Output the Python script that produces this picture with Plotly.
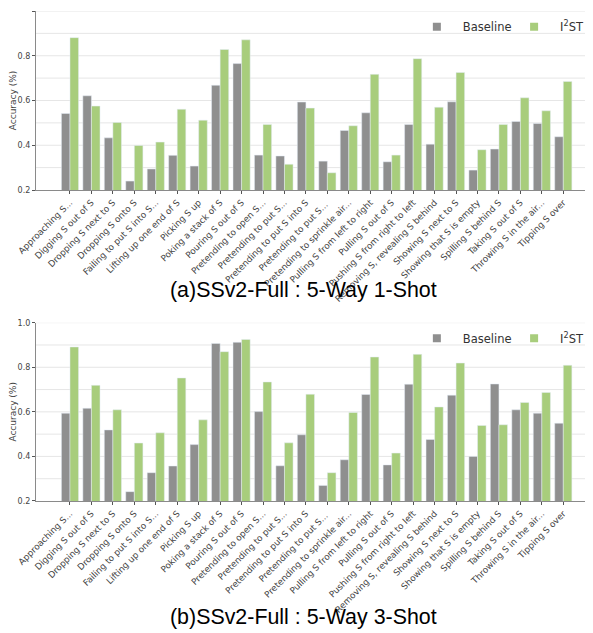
import plotly.graph_objects as go

categories = [
    "Approaching S...", "Digging S out of S", "Dropping S next to S", "Dropping S onto S",
    "Failing to put S into S...", "Lifting up one end of S", "Picking S up", "Poking a stack of S",
    "Pouring S out of S", "Pretending to open S...", "Pretending to put S...", "Pretending to put S into S",
    "Pretending to put S... ", "Pretending to sprinkle air...", "Pulling S from left to right",
    "Pulling S out of S", "Pushing S from right to left", "Removing S, revealing S behind",
    "Showing S next to S", "Showing that S is empty", "Spilling S behind S", "Taking S out of S",
    "Throwing S in the air...", "Tipping S over",
]

baseline_1shot = [0.542, 0.621, 0.433, 0.240, 0.294, 0.355, 0.307, 0.668, 0.765, 0.356, 0.352, 0.593,
                  0.329, 0.466, 0.545, 0.326, 0.493, 0.405, 0.594, 0.289, 0.383, 0.506, 0.497, 0.438]
i2st_1shot = [0.881, 0.575, 0.502, 0.399, 0.414, 0.561, 0.512, 0.828, 0.871, 0.493, 0.315, 0.566,
              0.277, 0.487, 0.717, 0.356, 0.787, 0.570, 0.725, 0.380, 0.493, 0.612, 0.554, 0.685]

baseline_3shot = [0.594, 0.616, 0.519, 0.242, 0.327, 0.357, 0.453, 0.907, 0.912, 0.601, 0.358, 0.497,
                  0.270, 0.385, 0.678, 0.362, 0.724, 0.476, 0.675, 0.400, 0.725, 0.609, 0.594, 0.549]
i2st_3shot = [0.891, 0.719, 0.609, 0.460, 0.506, 0.752, 0.564, 0.870, 0.925, 0.734, 0.461, 0.679,
              0.327, 0.597, 0.846, 0.415, 0.858, 0.622, 0.819, 0.539, 0.542, 0.642, 0.687, 0.809]

titles = ["(a)SSv2-Full : 5-Way 1-Shot", "(b)SSv2-Full : 5-Way 3-Shot"]
y_ticks = [0.2, 0.4, 0.6, 0.8, 1.0]
series_names = ["Baseline", "I<sup>2</sup>ST"]

GRAY = "#8f8f8f"
GREEN = "#a8cd7c"
x_idx = list(range(len(categories)))

fig = go.Figure()
panels = [(baseline_1shot, i2st_1shot, "x", "y"), (baseline_3shot, i2st_3shot, "x2", "y2")]
for base, ours, xa, ya in panels:
    fig.add_trace(go.Bar(x=x_idx, y=base, marker_color=GRAY, xaxis=xa, yaxis=ya,
                         showlegend=False, name=series_names[0]))
    fig.add_trace(go.Bar(x=x_idx, y=ours, marker_color=GREEN, xaxis=xa, yaxis=ya,
                         showlegend=False, name=series_names[1]))

# legend proxies (small square markers); each entry in its own legend for exact placement
legend_map = [("legend", "legend2", "x", "y"), ("legend3", "legend4", "x2", "y2")]
for leg_b, leg_i, xa, ya in legend_map:
    fig.add_trace(go.Scatter(x=[None], y=[None], mode="markers", name=series_names[0],
                             marker=dict(symbol="square", size=8, color=GRAY),
                             xaxis=xa, yaxis=ya, legend=leg_b))
    fig.add_trace(go.Scatter(x=[None], y=[None], mode="markers", name=series_names[1],
                             marker=dict(symbol="square", size=8, color=GREEN),
                             xaxis=xa, yaxis=ya, legend=leg_i))

xcommon = dict(
    tickmode="array", tickvals=x_idx, ticktext=categories, tickangle=-45,
    range=[-1.585, 24.385], showgrid=False, showline=True, linecolor="#8a8a8a",
    linewidth=1.2, ticks="outside", ticklen=3, tickcolor="#555",
    tickfont=dict(size=8.8, color="#444", family="DejaVu Sans"), automargin=False,
)
ycommon = dict(
    range=[0.2, 1.0], tickmode="array", tickvals=y_ticks, ticktext=["0.2", "0.4", "0.6", "0.8", "1.0"],
    showgrid=False, showline=True, linecolor="#8a8a8a", linewidth=1.2,
    ticks="outside", ticklen=3, tickcolor="#555",
    tickfont=dict(size=8, color="#444", family="DejaVu Sans"),
    title=dict(text="Accuracy (%)", font=dict(size=9, color="#444", family="DejaVu Sans"), standoff=6),
    automargin=False, zeroline=False,
)

D1 = [0.6347, 1.0]
D2 = [0.0, 0.3639]

legend_style = dict(orientation="h", yanchor="middle",
                    bgcolor="rgba(0,0,0,0)", font=dict(size=11.5, color="#333"),
                    itemwidth=42)

fig.update_layout(
    width=585, height=625,
    margin=dict(l=28, r=0, t=3, b=132),
    paper_bgcolor="white", plot_bgcolor="white",
    barmode="group", bargap=0.2, bargroupgap=0.0,
    font=dict(family="DejaVu Sans"),
    xaxis=dict(**xcommon, anchor="y"),
    yaxis=dict(**ycommon, domain=D1, anchor="x"),
    xaxis2=dict(**xcommon, anchor="y2"),
    yaxis2=dict(**ycommon, domain=D2, anchor="x2"),
    legend=dict(**legend_style, x=0.673, xanchor="left", y=0.968),
    legend2=dict(**legend_style, x=0.993, xanchor="right", y=0.968),
    legend3=dict(**legend_style, x=0.673, xanchor="left", y=0.332),
    legend4=dict(**legend_style, x=0.993, xanchor="right", y=0.332),
)

# gridlines at every 0.1 (light)
grid_vals = [0.3, 0.4, 0.5, 0.6, 0.7, 0.8, 0.9, 1.0]
shapes = []
for ya, xa in [("y", "x"), ("y2", "x2")]:
    for g in grid_vals:
        shapes.append(dict(type="line", xref=f"{xa} domain", yref=ya, x0=0, x1=1, y0=g, y1=g,
                           line=dict(color="#e6e6e6", width=1), layer="below"))
fig.update_layout(shapes=shapes)

fig.add_annotation(text=titles[0], xref="paper", yref="paper", x=0.480, y=(493 - 282) / 490,
                   showarrow=False, font=dict(size=21.4, color="black", family="Liberation Sans"),
                   xanchor="center", yanchor="middle")
fig.add_annotation(text=titles[1], xref="paper", yref="paper", x=0.480, y=(493 - 609) / 490,
                   showarrow=False, font=dict(size=21.4, color="black", family="Liberation Sans"),
                   xanchor="center", yanchor="middle")

fig.write_html("out.html")
